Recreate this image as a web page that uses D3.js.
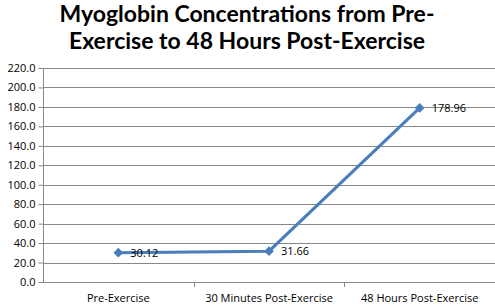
<!DOCTYPE html>
<html>
<head>
<meta charset="utf-8">
<script src="https://cdn.jsdelivr.net/npm/d3@7"></script>
<style>
  body { margin: 0; background: #fff; }
  text { font-family: "Open Sans", "DejaVu Sans", sans-serif; }
</style>
</head>
<body>
<script>
// chart data
let categories = ["Pre-Exercise", "30 Minutes Post-Exercise", "48 Hours Post-Exercise"];
let values = [30.12, 31.66, 178.96];
let yTicks = [0, 20, 40, 60, 80, 100, 120, 140, 160, 180, 200, 220];
let titleLines = ["Myoglobin Concentrations from Pre-", "Exercise to 48 Hours Post-Exercise"];

let margin = {top: 68, right: 0, bottom: 26, left: 43},
    width = 495 - margin.left - margin.right,
    height = 308 - margin.top - margin.bottom;

let svg = d3.select("body")
    .append("svg")
    .attr("width", 495)
    .attr("height", 308);

// title
svg.append("text")
    .attr("x", 247)
    .attr("y", 22)
    .attr("text-anchor", "middle")
    .style("font-family", "Lato, sans-serif")
    .style("font-weight", "bold")
    .style("font-size", "23px")
    .attr("fill", "#000")
    .selectAll("tspan")
    .data(titleLines)
    .enter().append("tspan")
    .attr("x", 247)
    .attr("dy", function(d, i) { return i === 0 ? 0 : 27; })
    .text(function(d) { return d; });

let g = svg.append("g")
    .attr("transform", "translate(" + margin.left + "," + margin.top + ")");

let x = d3.scaleBand()
    .domain(categories)
    .range([0, width]);

let y = d3.scaleLinear()
    .domain([0, 220])
    .range([height, 0]);

// gridlines
g.append("g")
    .selectAll("line")
    .data(yTicks)
    .enter().append("line")
    .attr("x1", 0)
    .attr("x2", width)
    .attr("y1", function(d) { return Math.round(y(d)) + 0.5; })
    .attr("y2", function(d) { return Math.round(y(d)) + 0.5; })
    .attr("stroke", "#878787")
    .attr("stroke-width", 1);

// y axis
let yAxis = g.append("g")
    .attr("transform", "translate(0.5,0)")
    .call(d3.axisLeft(y).tickValues(yTicks).tickSize(5).tickPadding(3)
        .tickFormat(d3.format(".1f")));
yAxis.selectAll("line").attr("stroke", "#878787");
yAxis.select(".domain").attr("stroke", "#878787").attr("d", "M0,0V" + height);
yAxis.selectAll("text").style("font-size", "11px").attr("fill", "#000")
    .style("font-family", "'Open Sans', sans-serif");

// x axis
let xAxis = g.append("g")
    .attr("transform", "translate(0," + (Math.round(height) + 0.5) + ")")
    .call(d3.axisBottom(x).tickSize(0).tickPadding(12));
xAxis.select(".domain").attr("stroke", "#878787").attr("d", "M0,0H" + width);
xAxis.selectAll("text").style("font-size", "11px").attr("fill", "#000")
    .style("font-family", "'Open Sans', sans-serif");

// category separators
g.append("g")
    .selectAll("line")
    .data(categories.slice(1))
    .enter().append("line")
    .attr("x1", function(d) { return Math.round(x(d)) + 0.5; })
    .attr("x2", function(d) { return Math.round(x(d)) + 0.5; })
    .attr("y1", height)
    .attr("y2", height + 5)
    .attr("stroke", "#878787");

let cx = function(d, i) { return x(categories[i]) + x.bandwidth() / 2; };

// the line
g.append("path")
    .datum(values)
    .attr("fill", "none")
    .attr("stroke", "#4a7ebb")
    .attr("stroke-width", 3)
    .attr("d", d3.line()
        .x(cx)
        .y(function(d) { return y(d); }));

// markers
g.selectAll(".marker")
    .data(values)
    .enter().append("path")
    .attr("class", "marker")
    .attr("transform", function(d, i) { return "translate(" + cx(d, i) + "," + y(d) + ")"; })
    .attr("d", d3.symbol().type(d3.symbolDiamond2).size(60))
    .attr("fill", "#4a7ebb");

// data labels
g.selectAll(".label")
    .data(values)
    .enter().append("text")
    .attr("class", "label")
    .attr("x", function(d, i) { return cx(d, i) + 12; })
    .attr("y", function(d) { return y(d) + 4; })
    .style("font-size", "11px")
    .style("font-family", "'Open Sans', sans-serif")
    .attr("fill", "#000")
    .text(function(d) { return d3.format(".2f")(d); });
</script>
</body>
</html>
